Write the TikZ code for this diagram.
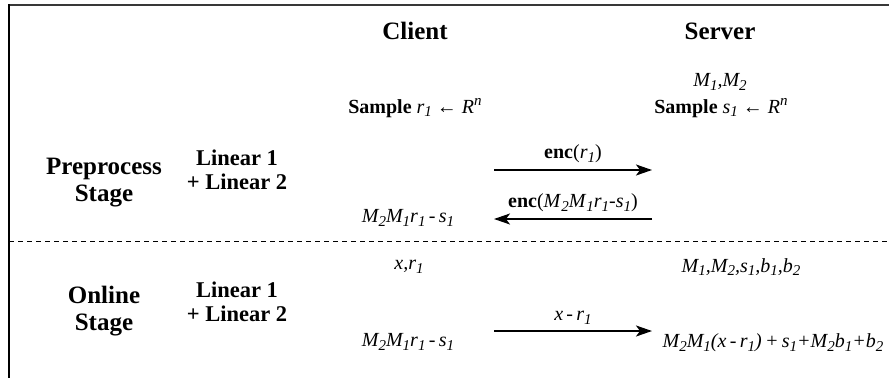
\documentclass[tikz,border=0pt]{standalone}
\usepackage{fontspec}
\setmainfont{Liberation Serif}
\usetikzlibrary{arrows.meta}
% small italic subscript / superscript used in the formulas
\newcommand\lo[1]{\raisebox{-0.42ex}{\fontsize{15}{15}\selectfont\itshape #1}}
\newcommand\hi[1]{\raisebox{0.8ex}{\fontsize{15}{15}\selectfont\itshape #1}}
\begin{document}
\begin{tikzpicture}[x=1pt,y=-1pt,
  head/.style={font=\fontsize{25}{25}\selectfont\bfseries},
  stage/.style={font=\fontsize{25}{27}\selectfont\bfseries,align=center},
  layer/.style={font=\fontsize{22.5}{24}\selectfont\bfseries,align=center},
  txt/.style={font=\fontsize{20}{20}\selectfont,inner sep=1pt},
  msg/.style={line width=1.6pt,-{Stealth[length=16pt,width=11pt,inset=4pt]}},
  frame/.style={line width=2pt}]
\useasboundingbox (0,0) rectangle (889,378);
% frame
\draw[frame,draw=black!78] (8,5) -- (889,5);
\draw[frame,draw=black] (9,4) -- (9,378);
\draw[line width=1pt,dash pattern=on 5pt off 4pt] (9,241) -- (889,241);

% column headings
\node[head] (client) at (415,31) {Client};
\node[head] (server) at (720,31) {Server};

% preprocess stage
\node[txt] (m12) at (720,82) {\itshape M\lo{1},M\lo{2}};
\node[txt] (sr) at (415,108) {\textbf{Sample} \textit{r}\lo{1} ← \textit{R}\hi{n}};
\node[txt] (ss) at (721,108) {\textbf{Sample} \textit{s}\lo{1} ← \textit{R}\hi{n}};
\node[stage] (pre) at (104,183) {Preprocess\\Stage};
\node[layer] (lin1) at (237,170) {Linear 1\\+ Linear 2};
\node[txt] (cres1) at (408,218) {\itshape M\lo{2}M\lo{1}r\lo{1}\,-\,s\lo{1}};

\coordinate (e1a) at (494,170);
\coordinate (e1b) at (652,170);
\coordinate (e2a) at (652,219);
\coordinate (e2b) at (494,219);
\draw[msg] (e1a) -- (e1b) node[txt,midway,above=5pt] (l1) {\textbf{enc}(\textit{r}\lo{1})};
\draw[msg] (e2a) -- (e2b) node[txt,midway,above=5pt] (l2) {\textbf{enc}(\textit{M}\lo{2}\textit{M}\lo{1}\textit{r}\lo{1}-\textit{s}\lo{1})};

% online stage
\node[txt] (xr) at (409,267) {\itshape x,r\lo{1}};
\node[txt] (srv2) at (741,267) {\itshape M\lo{1},M\lo{2},s\lo{1},b\lo{1},b\lo{2}};
\node[stage] (onl) at (104,311) {Online\\Stage};
\node[layer] (lin2) at (237,302) {Linear 1\\+ Linear 2};
\node[txt] (cres2) at (408,342) {\itshape M\lo{2}M\lo{1}r\lo{1}\,-\,s\lo{1}};
\node[txt] (sres) at (773,343) {\itshape M\lo{2}M\lo{1}(x\,-\,r\lo{1})\,+\,s\lo{1}+M\lo{2}b\lo{1}+b\lo{2}};

\coordinate (e3a) at (494,331);
\coordinate (e3b) at (652,331);
\draw[msg] (e3a) -- (e3b) node[txt,midway,above=5pt] (l3) {\itshape x\,-\,r\lo{1}};
\end{tikzpicture}
\end{document}
